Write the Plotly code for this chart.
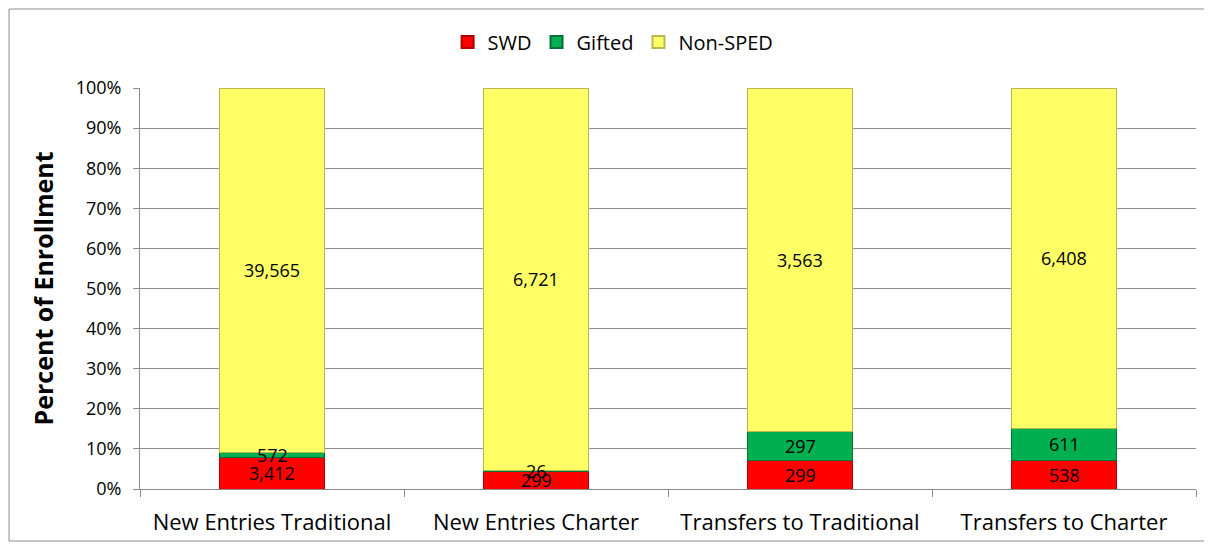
import plotly.graph_objects as go

categories = ["New Entries Traditional", "New Entries Charter", "Transfers to Traditional", "Transfers to Charter"]
swd = [3412, 299, 299, 538]
gifted = [572, 26, 297, 611]
non_sped = [39565, 6721, 3563, 6408]
y_ticks = [0, 10, 20, 30, 40, 50, 60, 70, 80, 90, 100]
y_tick_labels = [f"{v}%" for v in y_ticks]

FONT = "Open Sans"

series = [
    ("SWD", swd, "#FF0000", "#B00000"),
    ("Gifted", gifted, "#00B050", "#00703A"),
    ("Non-SPED", non_sped, "#FFFF66", "#B8B850"),
]

fig = go.Figure()
for name, vals, color, edge in series:
    fig.add_trace(go.Bar(
        name=name,
        x=categories,
        y=vals,
        marker=dict(color=color, line=dict(color=edge, width=1)),
        hoverinfo="skip",
    ))

# data labels as annotations (centred in each stacked segment, drawn on top)
totals = [a + b + c for a, b, c in zip(swd, gifted, non_sped)]
annotations = []
for i, cat in enumerate(categories):
    base = 0.0
    for name, vals, _, _ in series:
        pct = vals[i] / totals[i] * 100
        annotations.append(dict(
            x=cat, y=base + pct / 2, xref="x", yref="y",
            text=f"{vals[i]:,}", showarrow=False,
            font=dict(color="black", size=18, family=FONT),
        ))
        base += pct

fig.update_layout(
    barmode="stack",
    barnorm="percent",
    bargap=0.6,
    width=1204,
    height=536,
    margin=dict(l=132, r=16, t=80, b=55, autoexpand=False),
    paper_bgcolor="white",
    plot_bgcolor="white",
    font=dict(family=FONT, color="black", size=18),
    annotations=annotations,
    legend=dict(
        orientation="h",
        x=0.448, xanchor="center",
        y=1.115, yanchor="middle",
        font=dict(size=20, family=FONT),
        itemsizing="constant",
        itemwidth=30,
        traceorder="normal",
    ),
    xaxis=dict(
        automargin=False,
        showline=True, linecolor="#8C8C8C", linewidth=1,
        ticks="outside", tickson="boundaries", ticklen=7, tickcolor="#8C8C8C",
        tickfont=dict(size=22, family=FONT),
        ticklabelstandoff=14,
        showgrid=False,
    ),
    yaxis=dict(
        automargin=False,
        range=[0, 100],
        tickmode="array", tickvals=y_ticks, ticktext=y_tick_labels,
        showline=True, linecolor="#8C8C8C", linewidth=1,
        ticks="outside", ticklen=6, tickcolor="#8C8C8C",
        ticklabelstandoff=8,
        showgrid=True, gridcolor="#8C8C8C", gridwidth=1,
        tickfont=dict(size=18, family=FONT),
        title=dict(text="<b>Percent of Enrollment</b>", font=dict(size=25, family=FONT), standoff=14),
        zeroline=False,
    ),
    shapes=[dict(
        type="rect", xref="paper", yref="paper",
        x0=-0.124, x1=1.0123, y0=-0.1297, y1=1.197,
        line=dict(color="#8C8C8C", width=1), fillcolor="rgba(0,0,0,0)", layer="below",
    )],
)

fig.write_html("out.html")
